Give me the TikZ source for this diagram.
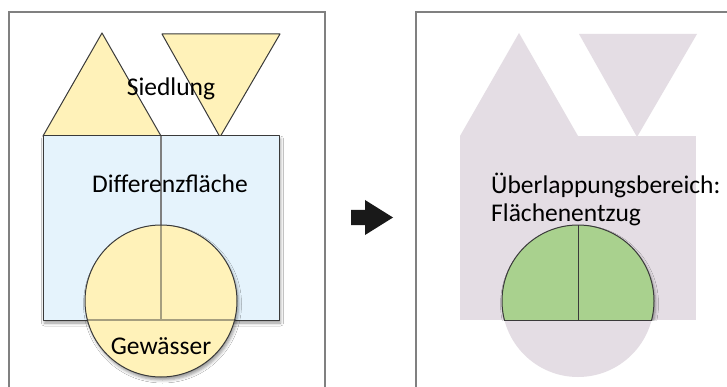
\documentclass[tikz,border=0pt]{standalone}
\usepackage{fontspec}
\setmainfont{Carlito}
\usetikzlibrary{shadows.blur}
\definecolor{siedgelb}{HTML}{FFF2B9}
\definecolor{diffblau}{HTML}{E5F3FC}
\definecolor{entzuglila}{HTML}{E4DDE4}
\definecolor{entzuggruen}{HTML}{A9D18E}
\definecolor{randgrau}{HTML}{808080}
\definecolor{kante}{HTML}{3A3A3A}

\begin{document}
\begin{tikzpicture}[
        x=1pt,y=-1pt,
        frame/.style={draw=randgrau,line width=1.4pt},
        area/.style={draw=kante,line width=1pt,line join=round},
        schatten/.style={blur shadow={shadow xshift=1.5pt,shadow yshift=-3pt,
          shadow blur radius=3pt,shadow opacity=40}},
        label/.style={font=\fontsize{25.5}{28}\selectfont,text=black,inner sep=0pt}
      ]
        \clip (0,0) rectangle (727,387);
        \fill[white] (0,0) rectangle (727,387);

        % linke Seite: Ausgangslage
        \draw[frame] (9,12) rectangle (325,400);
        \draw[area,fill=siedgelb] (102,33) -- (43,136) -- (161,136) -- cycle;
        \draw[area,fill=siedgelb] (162,34) -- (280,34) -- (220,137) -- cycle;
        \draw[area,fill=diffblau,schatten] (43,136) rectangle (279,320);
        \draw[line width=1.4pt,draw=kante!65] (161,136) -- (161,225);
        \draw[area,fill=siedgelb,schatten] (161,301) circle (76);
        \draw[line width=1.8pt,draw=kante,opacity=.45] (161,225) -- (161,320)
          (86.5,320) -- (235.5,320);

        \node[label] (siedlung) at (171,89) {Siedlung};
        \node[label] (diff) at (170,184) {Differenzfläche};
        \node[label] (gewaesser) at (161,346) {Gewässer};

        % Pfeil
        \fill[black!90] (351,210) -- (365,210) -- (365,200) -- (393,217.5)
          -- (365,235) -- (365,225) -- (351,225) -- cycle;

        % rechte Seite: Ergebnis
        \draw[frame] (416,12) rectangle (740,400);
        \fill[entzuglila] (519,33) -- (460,136) -- (578,136) -- cycle;
        \fill[entzuglila] (579,34) -- (697,34) -- (637,137) -- cycle;
        \fill[entzuglila] (460,136) rectangle (696,320);
        \fill[entzuglila] (578,301) circle (76);

        \begin{scope}
          \clip (460,136) rectangle (696,320);
          \draw[area,fill=entzuggruen,schatten] (578,301) circle (76);
        \end{scope}
        \draw[area] (504.4,320) -- (651.6,320) (578,225) -- (578,320);

        \node[label,anchor=west,align=left] (entzug) at (491,199)
          {Überlappungsbereich:\\Flächenentzug};
      \end{tikzpicture}
\end{document}
